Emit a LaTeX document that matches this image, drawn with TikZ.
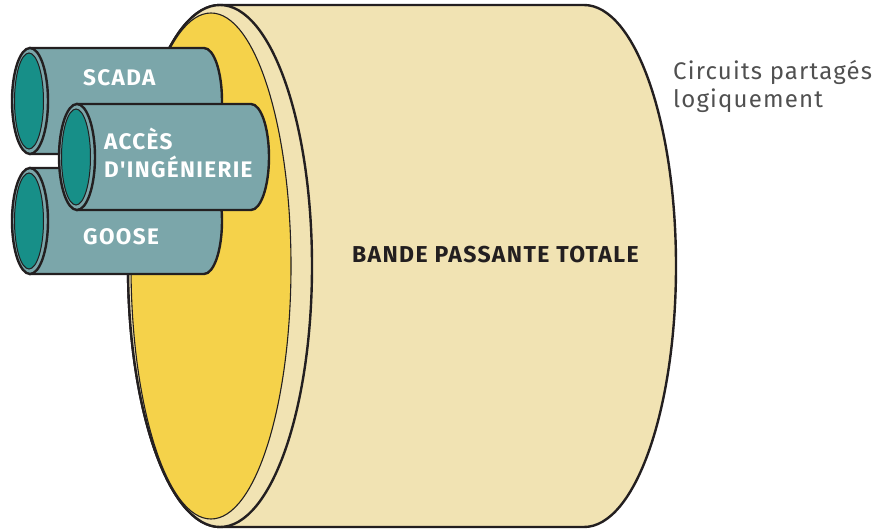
\documentclass[tikz,border=0pt]{standalone}
\usepackage{fontspec}
\setmainfont{Fira Sans}
\newfontfamily\tagfont[LetterSpace=6]{Fira Sans}
\newfontfamily\notefont[LetterSpace=5]{Fira Sans}
\definecolor{bodylight}{HTML}{F1E3B3}
\definecolor{facedark}{HTML}{F5D24A}
\definecolor{pipegrey}{HTML}{7BA6AA}
\definecolor{pipeteal}{HTML}{178F88}
\definecolor{outline}{HTML}{231F20}
\definecolor{notegrey}{HTML}{505050}

% one small cylinder: #1 = x of its open end, #2 = y of its axis, #3 = x of its far end
\newcommand{\conduit}[3]{%
  \draw[pipeline] (#1,#2-53) -- (#3,#2-53)
    arc[start angle=90, end angle=-90, x radius=18pt, y radius=53pt]
    -- (#1,#2+53) -- cycle;
  \draw[pipeline] (#1,#2) ellipse[x radius=18pt, y radius=53pt];
  \draw[fill=pipeteal, draw=outline, line width=1pt] (#1-1,#2) ellipse[x radius=14.5pt, y radius=48pt];
}

\begin{document}
\begin{tikzpicture}[x=1pt, y=-1pt,
  heavy/.style={draw=outline, line width=2.4pt},
  pipeline/.style={fill=pipegrey, draw=outline, line width=2.4pt},
  pipelabel/.style={text=white, font=\tagfont\bfseries\fontsize{22.5}{26}\selectfont, inner sep=0pt, anchor=base west},
  mainlabel/.style={text=outline, font=\tagfont\bfseries\fontsize{23}{27}\selectfont, inner sep=0pt, anchor=base west},
  notelabel/.style={text=notegrey, font=\notefont\fontsize{24}{29}\selectfont, inner sep=0pt, anchor=base west}]
\useasboundingbox (0,0) rectangle (875,529);

% large cylinder: body, front rim, inner face
\path[fill=bodylight, heavy] (220,5) -- (584,5)
  arc[start angle=90, end angle=-90, x radius=92pt, y radius=261pt]
  -- (220,527)
  arc[start angle=270, end angle=90, x radius=92pt, y radius=261pt] -- cycle;
\draw[fill=bodylight, heavy] (220,266) ellipse[x radius=92pt, y radius=261pt];
\draw[fill=facedark, draw=outline, line width=1.1pt] (211,266) ellipse[x radius=80pt, y radius=253pt];

% small cylinders
\conduit{30}{101}{204}
\conduit{30}{221}{204}
\conduit{77}{157}{251}

% labels
\node[pipelabel] (scada) at (83,86) {SCADA};
\node[pipelabel] (goose) at (83,245) {GOOSE};
\node[pipelabel] (acces) at (104,150) {ACCÈS};
\node[pipelabel] (inge) at (104,178) {D'INGÉNIERIE};
\node[mainlabel] (total) at (352,263) {BANDE PASSANTE TOTALE};
\node[notelabel] (note1) at (673,80) {Circuits partagés};
\node[notelabel] (note2) at (673,108) {logiquement};
\end{tikzpicture}
\end{document}
